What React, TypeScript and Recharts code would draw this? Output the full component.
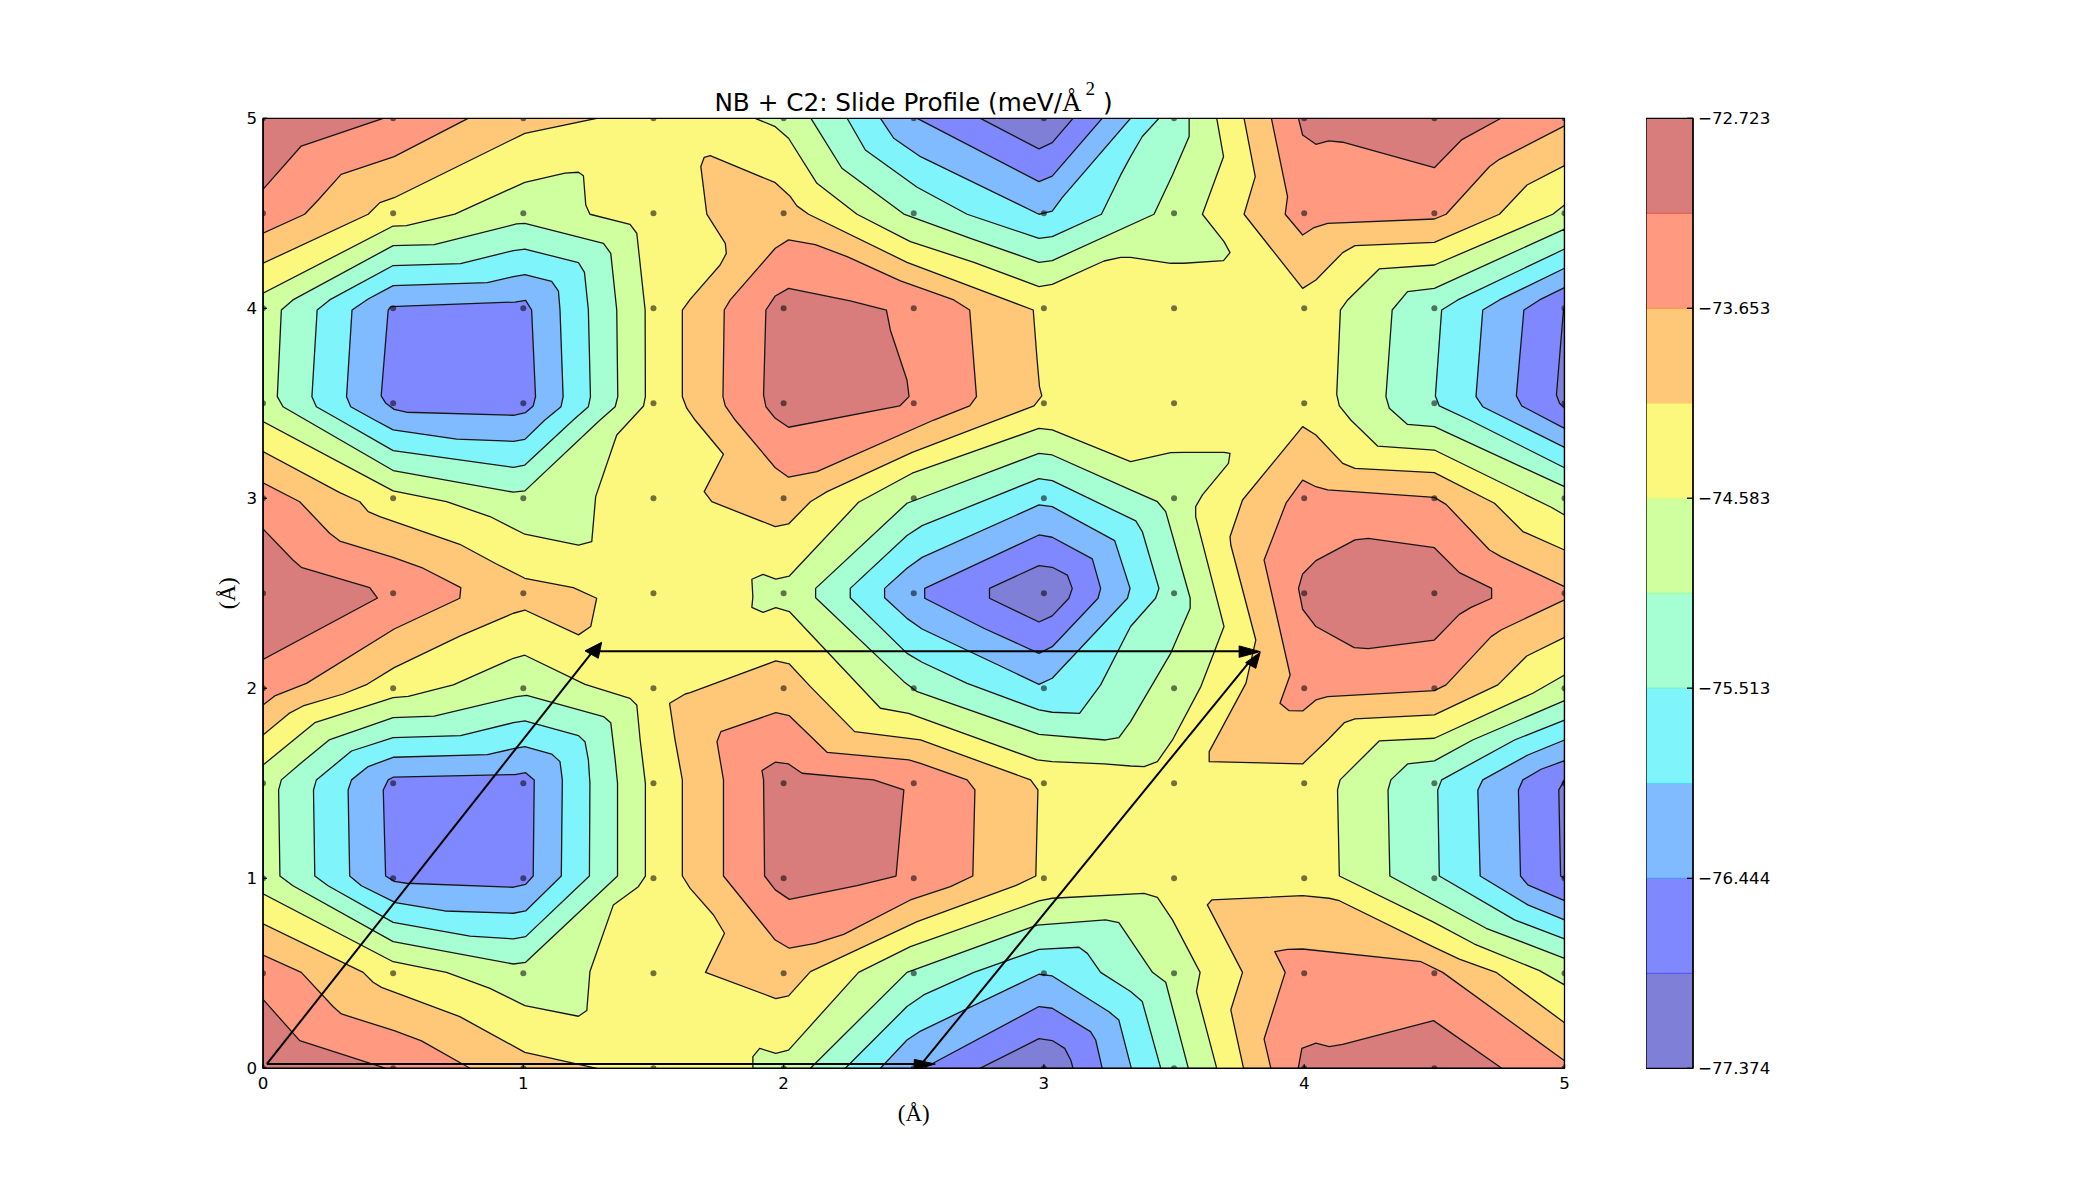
// NB + C2 slide profile: filled contour bands traced from the surface, grid samples and lattice arrows

import { ScatterChart, Scatter, XAxis, YAxis } from "recharts";

type Pair = [number, number];

const axisTicks = [0, 1, 2, 3, 4, 5];
const gridSteps = [0, 0.5, 1, 1.5, 2, 2.5, 3, 3.5, 4, 4.5, 5];

// colour bar
const levels = [-77.374, -76.909, -76.444, -75.979, -75.513, -75.048, -74.583, -74.118, -73.653, -73.188, -72.723];
const barTicks = [-77.374, -76.444, -75.513, -74.583, -73.653, -72.723];
const bandColors = ["#7f7fd7", "#8088ff", "#80bbff", "#80f4fb", "#a6ffd2", "#cfff9f", "#fcf87e", "#ffc878", "#ff9980", "#d87c7c"];
const edgeColors = ["#4050ff", "#4a90ff", "#40d8ff", "#60f0d0", "#90ffa0", "#d8ff70", "#ffd860", "#ff8a3a", "#e0553f"];

const yellow = "#fcf87e";
const orange = "#ffc878";
const salmon = "#ff9980";
const darkRed = "#d87c7c";
const lime = "#cfff9f";
const aqua = "#a6ffd2";
const cyan = "#80f4fb";
const lightBlue = "#80bbff";
const blue = "#8088ff";
const darkBlue = "#7f7fd7";

// contour outlines, in plot units
const background: Pair[] = [[0, 0], [5, 0], [5, 5], [0, 5]];

const orangeTopLeft: Pair[] = [[0, 4.237], [0.404, 4.495], [0.449, 4.556], [0.504, 4.582], [1.006, 4.921], [1.282, 5], [0, 5]];
const salmonTopLeft: Pair[] = [[0, 4.395], [0.16, 4.495], [0.212, 4.57], [0.3, 4.705], [0.504, 4.798], [0.788, 5], [0, 5]];
const redTopLeft: Pair[] = [[0, 4.626], [0.147, 4.854], [0.462, 5], [0, 5]];

const orangeBottomLeft: Pair[] = [[0, 0.76], [0.385, 0.505], [0.423, 0.453], [0.455, 0.426], [0.756, 0.272], [1.006, 0.084], [1.282, 0], [0, 0]];
const salmonBottomLeft: Pair[] = [[0, 0.596], [0.147, 0.505], [0.269, 0.325], [0.301, 0.286], [0.504, 0.198], [0.609, 0.144], [0.795, 0], [0, 0]];
const redBottomLeft: Pair[] = [[0, 0.363], [0.141, 0.146], [0.472, 0], [0, 0]];

const orangeLeft: Pair[] = [[0, 3.246], [0.295, 3.03], [0.372, 2.982], [0.404, 2.93], [0.449, 2.904], [0.756, 2.758], [0.897, 2.654], [1.006, 2.579], [1.192, 2.53], [1.282, 2.474], [1.259, 2.325], [1.212, 2.281], [1.006, 2.412], [0.962, 2.395], [0.756, 2.275], [0.504, 2.109], [0.4, 2.021], [0.308, 1.97], [0.154, 1.907], [0.1, 1.868], [0, 1.754]];
const salmonLeft: Pair[] = [[0, 3.082], [0.141, 2.982], [0.256, 2.816], [0.295, 2.775], [0.5, 2.689], [0.615, 2.632], [0.76, 2.53], [0.756, 2.474], [0.504, 2.312], [0.167, 2.026], [0.045, 1.96], [0, 1.912]];
const redLeft: Pair[] = [[0, 2.839], [0.115, 2.675], [0.147, 2.637], [0.41, 2.53], [0.44, 2.475], [0, 2.152]];

const orangeUpperMid: Pair[] = [[1.682, 4.746], [1.695, 4.795], [1.718, 4.804], [1.968, 4.661], [2.026, 4.588], [2.051, 4.539], [2.096, 4.495], [2.474, 4.242], [2.959, 3.991], [2.974, 3.728], [2.983, 3.588], [2.992, 3.539], [2.962, 3.486], [2.818, 3.412], [2.494, 3.242], [2.167, 3.035], [2.103, 2.982], [2.019, 2.865], [1.968, 2.851], [1.724, 2.982], [1.695, 3.035], [1.769, 3.232], [1.66, 3.412], [1.628, 3.474], [1.611, 3.535], [1.611, 3.991], [1.641, 4.047], [1.756, 4.228], [1.78, 4.289], [1.776, 4.342], [1.705, 4.496]];
const salmonUpperMid: Pair[] = [[1.772, 3.991], [1.795, 4.044], [1.968, 4.316], [2.019, 4.36], [2.122, 4.335], [2.244, 4.272], [2.449, 4.144], [2.654, 4.044], [2.715, 3.991], [2.741, 3.535], [2.715, 3.486], [2.577, 3.412], [2.128, 3.14], [2.019, 3.111], [1.968, 3.161], [1.814, 3.412], [1.776, 3.486], [1.767, 3.535]];
const redUpperMid: Pair[] = [[1.932, 3.991], [1.968, 4.065], [2.019, 4.105], [2.256, 4.039], [2.395, 3.991], [2.41, 3.886], [2.474, 3.623], [2.482, 3.535], [2.446, 3.486], [2.019, 3.374], [1.968, 3.421], [1.932, 3.482], [1.923, 3.544]];

const orangeLowerMid: Pair[] = [[1.562, 1.921], [1.622, 1.97], [1.641, 1.977], [1.97, 2.144], [2.022, 2.128], [2.103, 2.009], [2.273, 1.772], [2.526, 1.728], [2.949, 1.518], [2.977, 1.465], [2.969, 1.012], [2.891, 0.961], [2.513, 0.772], [2.103, 0.509], [2.019, 0.381], [1.97, 0.367], [1.7, 0.505], [1.773, 0.711], [1.731, 0.807], [1.641, 0.947], [1.611, 1.012], [1.611, 1.518], [1.583, 1.728]];
const salmonLowerMid: Pair[] = [[1.744, 1.719], [1.759, 1.772], [1.97, 1.872], [2.022, 1.856], [2.167, 1.663], [2.481, 1.623], [2.526, 1.605], [2.705, 1.518], [2.735, 1.465], [2.727, 1.012], [2.641, 0.956], [2.487, 0.886], [2.231, 0.705], [2.122, 0.658], [2.022, 0.632], [1.968, 0.675], [1.769, 1.012], [1.769, 1.518]];
const redLowerMid: Pair[] = [[1.917, 1.567], [1.968, 1.611], [2.019, 1.602], [2.071, 1.553], [2.346, 1.518], [2.462, 1.465], [2.432, 1.012], [2.282, 0.961], [2.022, 0.889], [1.968, 0.939], [1.927, 1.012], [1.923, 1.518]];

const orangeTopRight: Pair[] = [[3.769, 5], [3.812, 4.693], [3.769, 4.495], [3.994, 4.105], [4.045, 4.149], [4.148, 4.293], [4.195, 4.33], [4.5, 4.347], [4.75, 4.495], [4.856, 4.649], [5, 4.751], [5, 5]];
const salmonTopRight: Pair[] = [[3.874, 5], [3.936, 4.588], [3.927, 4.495], [3.994, 4.386], [4.038, 4.425], [4.09, 4.447], [4.5, 4.47], [4.545, 4.495], [4.712, 4.746], [4.75, 4.784], [5, 4.96], [5, 5]];
const redTopRight: Pair[] = [[3.978, 5], [3.994, 4.912], [4.045, 4.863], [4.094, 4.881], [4.148, 4.874], [4.5, 4.74], [4.606, 4.888], [4.756, 5]];

const orangeRight: Pair[] = [[3.994, 3.377], [4.045, 3.333], [4.148, 3.184], [4.195, 3.158], [4.5, 3.135], [4.731, 2.974], [4.84, 2.825], [5, 2.728], [5, 2.268], [4.855, 2.17], [4.744, 2.018], [4.5, 1.86], [4.195, 1.839], [4.154, 1.819], [4.09, 1.728], [3.994, 1.602], [3.635, 1.614], [3.635, 1.667], [3.776, 2.026], [3.814, 2.254], [3.718, 2.754], [3.715, 2.798], [3.763, 2.991]];
const salmonRight: Pair[] = [[3.994, 3.096], [4.045, 3.061], [4.09, 3.044], [4.5, 3.005], [4.545, 2.968], [4.712, 2.728], [4.756, 2.693], [5, 2.535], [5, 2.465], [4.756, 2.307], [4.718, 2.272], [4.545, 2.018], [4.5, 1.988], [4.09, 1.956], [4.045, 1.939], [3.994, 1.881], [3.942, 1.882], [3.907, 1.921], [3.946, 2.07], [3.846, 2.675], [3.93, 2.974]];
const redRight: Pair[] = [[4.195, 2.781], [4.246, 2.789], [4.5, 2.74], [4.596, 2.609], [4.72, 2.526], [4.72, 2.474], [4.641, 2.426], [4.596, 2.389], [4.5, 2.254], [4.246, 2.209], [4.192, 2.214], [4.045, 2.325], [3.994, 2.416], [3.978, 2.526], [3.994, 2.602], [4.045, 2.672]];

const orangeBottomRight: Pair[] = [[3.628, 0.86], [3.645, 0.886], [3.994, 0.909], [4.096, 0.895], [4.135, 0.882], [4.494, 0.64], [4.596, 0.575], [4.737, 0.505], [5, 0.24], [5, 0], [3.767, 0], [3.718, 0.307], [3.763, 0.505]];
const salmonBottomRight: Pair[] = [[3.887, 0.614], [3.936, 0.626], [3.994, 0.628], [4.449, 0.561], [4.532, 0.505], [5, 0.04], [5, 0], [3.872, 0], [3.846, 0.154], [3.927, 0.505]];
const redBottomRight: Pair[] = [[3.977, 0], [3.991, 0.105], [4.045, 0.132], [4.096, 0.114], [4.148, 0.126], [4.497, 0.251], [4.759, 0]];

const limeUpperLeft: Pair[] = [[0, 4.079], [0.5, 4.433], [0.551, 4.435], [0.737, 4.496], [1.006, 4.663], [1.16, 4.711], [1.212, 4.716], [1.231, 4.698], [1.24, 4.544], [1.256, 4.495], [1.41, 4.442], [1.436, 4.395], [1.468, 3.991], [1.469, 3.535], [1.462, 3.486], [1.359, 3.333], [1.278, 3.009], [1.263, 2.772], [1.212, 2.753], [1.006, 2.811], [0.872, 2.904], [0.705, 2.982], [0.5, 3.039], [0, 3.404]];
const aquaUpperLeft: Pair[] = [[0.0705, 3.991], [0.115, 4.044], [0.5, 4.33], [0.658, 4.335], [0.974, 4.444], [1.006, 4.447], [1.308, 4.342], [1.336, 4.289], [1.359, 3.991], [1.363, 3.535], [1.353, 3.482], [1.295, 3.412], [1.006, 3.039], [0.962, 3.032], [0.5, 3.146], [0.077, 3.482], [0.055, 3.535]];
const cyanUpperLeft: Pair[] = [[0.208, 3.991], [0.256, 4.044], [0.5, 4.225], [0.759, 4.235], [0.962, 4.304], [1.006, 4.312], [1.212, 4.24], [1.235, 4.189], [1.25, 3.991], [1.258, 3.535], [1.25, 3.482], [1.192, 3.412], [1.006, 3.175], [0.962, 3.163], [0.5, 3.251], [0.295, 3.412], [0.205, 3.482], [0.188, 3.535]];
const lightUpperLeft: Pair[] = [[0.342, 3.991], [0.404, 4.049], [0.5, 4.119], [0.862, 4.135], [0.962, 4.167], [1.006, 4.177], [1.109, 4.142], [1.135, 4.091], [1.141, 3.991], [1.153, 3.535], [1.145, 3.482], [1.083, 3.412], [1.006, 3.31], [0.962, 3.3], [0.744, 3.311], [0.5, 3.36], [0.429, 3.412], [0.337, 3.482], [0.321, 3.535]];
const blueUpperLeft: Pair[] = [[0.481, 3.991], [0.491, 4.009], [0.968, 4.033], [1.009, 4.042], [1.032, 3.991], [1.047, 3.535], [1.038, 3.486], [1.009, 3.451], [0.962, 3.437], [0.551, 3.453], [0.504, 3.468], [0.472, 3.5], [0.454, 3.539]];

const limeLowerLeft: Pair[] = [[0, 1.596], [0.199, 1.819], [0.5, 1.951], [0.558, 1.958], [0.731, 2.018], [0.962, 2.158], [1.006, 2.174], [1.237, 2.021], [1.41, 1.947], [1.436, 1.912], [1.449, 1.728], [1.469, 1.5], [1.469, 1.012], [1.442, 0.956], [1.346, 0.86], [1.256, 0.509], [1.244, 0.304], [1.212, 0.274], [1.006, 0.33], [0.872, 0.421], [0.705, 0.505], [0.5, 0.561], [0, 0.918]];
const aquaLowerLeft: Pair[] = [[0.06, 1.465], [0.0705, 1.518], [0.16, 1.623], [0.254, 1.728], [0.5, 1.846], [0.658, 1.854], [0.974, 1.956], [1.013, 1.963], [1.308, 1.851], [1.336, 1.819], [1.353, 1.623], [1.362, 1.5], [1.362, 1.012], [1.009, 0.558], [0.962, 0.549], [0.5, 0.667], [0.115, 0.961], [0.065, 1.012]];
const cyanLowerLeft: Pair[] = [[0.194, 1.465], [0.205, 1.518], [0.34, 1.67], [0.5, 1.74], [0.759, 1.751], [0.962, 1.819], [1.006, 1.828], [1.212, 1.751], [1.237, 1.719], [1.25, 1.623], [1.256, 1.5], [1.254, 1.012], [1.009, 0.693], [0.962, 0.681], [0.795, 0.696], [0.5, 0.768], [0.25, 0.961], [0.199, 1.012]];
const lightLowerLeft: Pair[] = [[0.327, 1.465], [0.34, 1.518], [0.404, 1.588], [0.5, 1.637], [0.862, 1.651], [0.962, 1.682], [1.006, 1.693], [1.109, 1.654], [1.141, 1.614], [1.15, 1.518], [1.146, 1.012], [1.009, 0.828], [0.962, 0.816], [0.699, 0.828], [0.509, 0.872], [0.378, 0.961], [0.333, 1.012]];
const blueLowerLeft: Pair[] = [[0.462, 1.465], [0.481, 1.518], [0.5, 1.532], [0.968, 1.546], [1.009, 1.556], [1.042, 1.518], [1.038, 1.012], [1.009, 0.968], [0.962, 0.953], [0.551, 0.974], [0.504, 0.984], [0.471, 1.012]];

const limeTop: Pair[] = [[1.891, 5], [1.968, 4.956], [2.019, 4.895], [2.128, 4.658], [2.282, 4.495], [2.487, 4.351], [2.731, 4.242], [2.981, 4.114], [3.032, 4.126], [3.231, 4.249], [3.295, 4.268], [3.333, 4.268], [3.487, 4.237], [3.538, 4.237], [3.69, 4.251], [3.715, 4.293], [3.692, 4.351], [3.609, 4.495], [3.69, 4.798], [3.664, 5]];
const aquaTop: Pair[] = [[2.105, 5], [2.224, 4.737], [2.462, 4.496], [2.718, 4.368], [2.981, 4.242], [3.032, 4.251], [3.423, 4.495], [3.494, 4.702], [3.558, 4.904], [3.558, 5]];
const cyanTop: Pair[] = [[2.244, 5], [2.314, 4.833], [2.513, 4.637], [2.705, 4.495], [2.981, 4.368], [3.032, 4.377], [3.221, 4.495], [3.295, 4.702], [3.333, 4.798], [3.378, 4.904], [3.442, 5]];
const lightTop: Pair[] = [[2.372, 5], [2.423, 4.895], [2.526, 4.798], [2.981, 4.495], [3.032, 4.512], [3.071, 4.584], [3.333, 5]];
const blueTop: Pair[] = [[2.513, 5], [2.981, 4.667], [3.032, 4.696], [3.224, 5]];
const darkTop: Pair[] = [[2.756, 5], [2.981, 4.839], [3.032, 4.872], [3.112, 5]];

const limeBottom: Pair[] = [[1.882, 0], [1.882, 0.061], [1.908, 0.105], [1.97, 0.079], [2.019, 0.096], [2.288, 0.505], [2.487, 0.64], [2.981, 0.881], [3.032, 0.895], [3.385, 0.921], [3.436, 0.9], [3.494, 0.781], [3.6, 0.505], [3.586, 0.404], [3.664, 0]];
const aquaBottom: Pair[] = [[2.103, 0], [2.474, 0.505], [2.974, 0.754], [3.237, 0.781], [3.288, 0.767], [3.417, 0.505], [3.468, 0.453], [3.555, 0]];
const cyanBottom: Pair[] = [[2.237, 0], [2.474, 0.325], [2.538, 0.386], [2.731, 0.505], [2.981, 0.626], [3.135, 0.637], [3.167, 0.605], [3.218, 0.505], [3.333, 0.404], [3.378, 0.351], [3.449, 0]];
const lightBottom: Pair[] = [[2.372, 0], [2.474, 0.149], [2.526, 0.196], [2.981, 0.495], [3.032, 0.486], [3.25, 0.298], [3.288, 0.254], [3.336, 0]];
const blueBottom: Pair[] = [[2.538, 0], [2.981, 0.325], [3.032, 0.316], [3.179, 0.193], [3.199, 0.149], [3.224, 0]];
const darkBottom: Pair[] = [[2.754, 0], [2.981, 0.156], [3.032, 0.146], [3.08, 0.105], [3.103, 0.044], [3.112, 0]];

const limeCentre: Pair[] = [[1.878, 2.574], [1.921, 2.6], [1.97, 2.575], [2.022, 2.591], [2.288, 2.979], [2.494, 3.132], [2.981, 3.368], [3.032, 3.36], [3.333, 3.193], [3.487, 3.24], [3.538, 3.242], [3.692, 3.242], [3.715, 3.237], [3.709, 3.184], [3.609, 3.018], [3.583, 2.956], [3.583, 2.904], [3.692, 2.325], [3.603, 2.009], [3.494, 1.728], [3.436, 1.614], [3.385, 1.588], [3.333, 1.591], [3.231, 1.602], [3.032, 1.614], [2.974, 1.623], [2.48, 1.868], [2.372, 1.895], [2.022, 2.404], [1.97, 2.425], [1.921, 2.4], [1.878, 2.426], [1.882, 2.482]];
const aquaCentre: Pair[] = [[2.123, 2.526], [2.474, 2.974], [2.981, 3.237], [3.032, 3.228], [3.333, 3.044], [3.436, 2.982], [3.468, 2.93], [3.562, 2.474], [3.562, 2.421], [3.487, 2.184], [3.333, 1.825], [3.288, 1.74], [3.237, 1.728], [2.981, 1.758], [2.513, 1.982], [2.462, 2.035], [2.123, 2.477]];
const cyanCentre: Pair[] = [[2.256, 2.526], [2.474, 2.804], [2.532, 2.856], [2.981, 3.104], [3.032, 3.093], [3.353, 2.881], [3.378, 2.825], [3.442, 2.526], [3.429, 2.474], [3.333, 2.325], [3.218, 2.018], [3.137, 1.868], [3.032, 1.874], [2.981, 1.886], [2.705, 2.026], [2.532, 2.137], [2.474, 2.184], [2.256, 2.477]];
const lightCentre: Pair[] = [[2.388, 2.526], [2.474, 2.632], [2.532, 2.689], [2.981, 2.965], [3.032, 2.956], [3.272, 2.777], [3.331, 2.526], [3.321, 2.474], [3.032, 2.053], [2.981, 2.021], [2.532, 2.312], [2.474, 2.368], [2.388, 2.477]];
const blueCentre: Pair[] = [[2.542, 2.526], [2.542, 2.474], [2.769, 2.316], [2.981, 2.184], [3.032, 2.219], [3.208, 2.474], [3.218, 2.526], [3.186, 2.681], [3.032, 2.795], [2.981, 2.807]];
const darkCentre: Pair[] = [[2.791, 2.526], [2.791, 2.474], [2.981, 2.349], [3.032, 2.381], [3.096, 2.474], [3.109, 2.526], [3.09, 2.596], [3.032, 2.637], [2.981, 2.646]];

const limeUpperRight: Pair[] = [[4.139, 3.991], [4.167, 4.044], [4.288, 4.207], [4.5, 4.228], [4.955, 4.495], [5, 4.544], [5, 2.912], [4.949, 2.953], [4.5, 3.254], [4.282, 3.275], [4.179, 3.412], [4.135, 3.486], [4.125, 3.547]];
const aquaUpperRight: Pair[] = [[4.338, 3.991], [4.397, 4.088], [4.5, 4.105], [5, 4.417], [5, 3.061], [4.5, 3.377], [4.397, 3.389], [4.327, 3.474], [4.314, 3.535]];
const cyanUpperRight: Pair[] = [[4.528, 3.991], [4.59, 4.044], [5, 4.312], [5, 3.161], [4.635, 3.412], [4.519, 3.486], [4.504, 3.539]];
const lightUpperRight: Pair[] = [[4.686, 3.991], [4.75, 4.044], [5, 4.211], [5, 3.268], [4.788, 3.412], [4.686, 3.482], [4.66, 3.535]];
const blueUpperRight: Pair[] = [[4.844, 3.991], [4.904, 4.044], [5, 4.109], [5, 3.368], [4.836, 3.486], [4.815, 3.539]];
const darkUpperRight: Pair[] = [[5, 4], [4.996, 3.991], [4.969, 3.544], [4.981, 3.5], [5, 3.474]];

const limeLowerRight: Pair[] = [[4.288, 1.723], [4.5, 1.737], [4.878, 1.974], [5, 2.07], [5, 0.439], [4.904, 0.514], [4.654, 0.654], [4.493, 0.772], [4.135, 1.012], [4.128, 1.465], [4.138, 1.518]];
const aquaLowerRight: Pair[] = [[5, 1.935], [4.647, 1.728], [4.5, 1.618], [4.397, 1.602], [4.333, 1.518], [4.322, 1.465], [4.329, 1.012], [4.699, 0.737], [5, 0.579]];
const cyanLowerRight: Pair[] = [[4.513, 1.465], [4.528, 1.518], [4.808, 1.728], [5, 1.833], [5, 0.681], [4.808, 0.781], [4.519, 1.012]];
const lightLowerRight: Pair[] = [[4.667, 1.465], [4.686, 1.518], [4.859, 1.649], [5, 1.728], [5, 0.781], [4.859, 0.86], [4.676, 1.012]];
const blueLowerRight: Pair[] = [[4.823, 1.465], [4.84, 1.518], [4.91, 1.574], [5, 1.619], [5, 0.882], [4.859, 0.965], [4.831, 1.012]];
const darkLowerRight: Pair[] = [[5, 1.521], [4.997, 1.509], [4.978, 1.465], [4.985, 1.012], [5, 1]];

// lattice arrows
const arrowShafts: Pair[][] = [
  [[0.015, 0.023], [2.51, 0.023]],
  [[0.015, 0.023], [1.27, 2.2]],
  [[1.288, 2.195], [3.76, 2.195]],
  [[2.53, 0.023], [3.79, 2.14]],
];
const arrowHeads: Pair[][] = [
  [[2.502, 0.047], [2.583, 0.022], [2.502, -0.005]],
  [[1.237, 2.197], [1.301, 2.242], [1.288, 2.158]],
  [[3.75, 2.223], [3.831, 2.193], [3.75, 2.163]],
  [[3.775, 2.135], [3.831, 2.189], [3.814, 2.105]],
];

const contours: [Pair[], string][] = [
  [background, yellow],
  [orangeTopLeft, orange], [salmonTopLeft, salmon], [redTopLeft, darkRed],
  [orangeBottomLeft, orange], [salmonBottomLeft, salmon], [redBottomLeft, darkRed],
  [orangeLeft, orange], [salmonLeft, salmon], [redLeft, darkRed],
  [orangeUpperMid, orange], [salmonUpperMid, salmon], [redUpperMid, darkRed],
  [orangeLowerMid, orange], [salmonLowerMid, salmon], [redLowerMid, darkRed],
  [orangeTopRight, orange], [salmonTopRight, salmon], [redTopRight, darkRed],
  [orangeRight, orange], [salmonRight, salmon], [redRight, darkRed],
  [orangeBottomRight, orange], [salmonBottomRight, salmon], [redBottomRight, darkRed],
  [limeUpperLeft, lime], [aquaUpperLeft, aqua], [cyanUpperLeft, cyan], [lightUpperLeft, lightBlue], [blueUpperLeft, blue],
  [limeLowerLeft, lime], [aquaLowerLeft, aqua], [cyanLowerLeft, cyan], [lightLowerLeft, lightBlue], [blueLowerLeft, blue],
  [limeTop, lime], [aquaTop, aqua], [cyanTop, cyan], [lightTop, lightBlue], [blueTop, blue], [darkTop, darkBlue],
  [limeBottom, lime], [aquaBottom, aqua], [cyanBottom, cyan], [lightBottom, lightBlue], [blueBottom, blue], [darkBottom, darkBlue],
  [limeCentre, lime], [aquaCentre, aqua], [cyanCentre, cyan], [lightCentre, lightBlue], [blueCentre, blue], [darkCentre, darkBlue],
  [limeUpperRight, lime], [aquaUpperRight, aqua], [cyanUpperRight, cyan], [lightUpperRight, lightBlue], [blueUpperRight, blue], [darkUpperRight, darkBlue],
  [limeLowerRight, lime], [aquaLowerRight, aqua], [cyanLowerRight, cyan], [lightLowerRight, lightBlue], [blueLowerRight, blue], [darkLowerRight, darkBlue],
];

const toPoints = (pairs: Pair[]) => pairs.map(([x, y]) => ({ x, y }));
const gridDots = gridSteps.flatMap((x) => gridSteps.map((y) => ({ x, y })));

const FONT = "'DejaVu Sans', sans-serif";
const SERIF = "'Liberation Serif', serif";
const tickStyle = { fill: "#000", fontSize: 16.67, fontFamily: FONT };
const frame = { stroke: "#000", strokeWidth: 1.3 };

// scatter's line prop hands over the scaled points, so a closed polygon can be filled from them
const polygon = (fill: string, stroke: string, strokeWidth: number) => (props: any) => (
  <polygon
    points={props.points.map((p: any) => `${p.x},${p.y}`).join(" ")}
    fill={fill}
    stroke={stroke}
    strokeWidth={strokeWidth}
    strokeLinejoin="round"
  />
);
const noDot = () => <g />;
const gridDot = (props: any) => <circle cx={props.cx} cy={props.cy} r={3} fill="#000" fillOpacity={0.55} />;

const formatLevel = (v: number) => `\u2212${Math.abs(v).toFixed(3)}`;

// the y label is centred on the axis, which the built-in rotated label does not do
const yAxisLabel = ({ viewBox }: any) => {
  const x = viewBox.x + 12;
  const y = viewBox.y + viewBox.height / 2;
  return (
    <text x={x} y={y} transform={`rotate(-90 ${x} ${y})`} textAnchor="middle" fill="#000" fontSize={23} fontFamily={SERIF}>
      (Å)
    </text>
  );
};

const Outline = ({ data, line }: { data: Pair[]; line: any }) => (
  <Scatter data={toPoints(data)} line={line} lineType="joint" shape={noDot} isAnimationActive={false} />
);

const ContourChart = () => (
  <ScatterChart
    width={1700}
    height={1187}
    margin={{ top: 118.3, left: 263, right: 135.5, bottom: 118.7 }}
  >
    <XAxis type="number" dataKey="x" domain={[0, 5]} allowDataOverflow hide />
    <YAxis type="number" dataKey="y" domain={[0, 5]} allowDataOverflow hide />

    {contours.map(([outline, color], i) => (
      <Outline key={i} data={outline} line={polygon(color, i === 0 ? "none" : "#161616", 1.3)} />
    ))}

    <Scatter data={gridDots} shape={gridDot} isAnimationActive={false} />

    {arrowShafts.map((shaft, i) => (
      <Outline key={`shaft-${i}`} data={shaft} line={{ stroke: "#000", strokeWidth: 2 }} />
    ))}
    {arrowHeads.map((head, i) => (
      <Outline key={`head-${i}`} data={head} line={polygon("#000", "#000", 1)} />
    ))}
  </ScatterChart>
);

// drawn over the contours because recharts paints axes below its series
const ContourAxes = () => (
  <ScatterChart
    width={1700}
    height={1187}
    margin={{ top: 118.3, left: 223, right: 135.5, bottom: 78.7 }}
  >
    <XAxis
      type="number"
      dataKey="x"
      domain={[0, 5]}
      ticks={axisTicks}
      height={40}
      interval={0}
      tick={tickStyle}
      axisLine={frame}
      tickLine={frame}
      tickSize={-4}
      tickMargin={13}
      label={{ value: "(Å)", position: "insideBottom", offset: -13, fill: "#000", fontSize: 23, fontFamily: SERIF }}
    />
    <YAxis
      type="number"
      dataKey="y"
      domain={[0, 5]}
      ticks={axisTicks}
      width={40}
      interval={0}
      tick={tickStyle}
      axisLine={frame}
      tickLine={frame}
      tickSize={-4}
      tickMargin={10}
      label={{ content: yAxisLabel }}
    />
    <XAxis xAxisId="top" orientation="top" type="number" domain={[0, 5]} ticks={axisTicks} height={0} tick={false} axisLine={frame} tickLine={frame} tickSize={-4} />
    <YAxis yAxisId="right" orientation="right" type="number" domain={[0, 5]} ticks={axisTicks} width={0} tick={false} axisLine={frame} tickLine={frame} tickSize={-4} />
    <Outline data={background} line={polygon("none", "#000", 1.3)} />
  </ScatterChart>
);

const ColourBar = () => (
  <ScatterChart
    width={220}
    height={1187}
    margin={{ top: 118.3, left: 0, right: 173, bottom: 118.7 }}
  >
    <XAxis type="number" dataKey="x" domain={[0, 1]} hide />
    <YAxis type="number" dataKey="y" domain={[levels[0], levels[levels.length - 1]]} hide />
    {bandColors.map((color, i) => (
      <Outline
        key={color}
        data={[[0, levels[i]], [1, levels[i]], [1, levels[i + 1]], [0, levels[i + 1]]]}
        line={polygon(color, "none", 0)}
      />
    ))}
    {edgeColors.map((color, i) => (
      <Outline key={color} data={[[0, levels[i + 1]], [1, levels[i + 1]]]} line={{ stroke: color, strokeWidth: 1 }} />
    ))}
  </ScatterChart>
);

const ColourBarAxis = () => (
  <ScatterChart
    width={220}
    height={1187}
    margin={{ top: 118.3, left: 0, right: 126, bottom: 118.7 }}
  >
    <XAxis type="number" dataKey="x" domain={[0, 1]} hide />
    <YAxis
      orientation="right"
      type="number"
      dataKey="y"
      domain={[levels[0], levels[levels.length - 1]]}
      ticks={barTicks}
      width={47}
      interval={0}
      tick={tickStyle}
      tickFormatter={formatLevel}
      tickLine={frame}
      axisLine={frame}
      tickSize={-6}
      tickMargin={11}
    />
    <Outline
      data={[[0, levels[0]], [1, levels[0]], [1, levels[levels.length - 1]], [0, levels[levels.length - 1]]]}
      line={polygon("none", "#000", 1.3)}
    />
  </ScatterChart>
);

const layer = (left: number) => ({ position: "absolute" as const, left, top: 0 });

const App = () => (
  <div style={{ position: "absolute", left: 0, top: 0, width: 2100, height: 1187, background: "#fff", overflow: "hidden" }}>
    <div style={layer(0)}>
      <ContourChart />
    </div>
    <div style={layer(0)}>
      <ContourAxes />
    </div>
    <div style={layer(1646)}>
      <ColourBar />
    </div>
    <div style={layer(1646)}>
      <ColourBarAxis />
    </div>
    <div
      style={{
        position: "absolute",
        left: 263,
        width: 1301,
        top: 87,
        textAlign: "center",
        fontFamily: FONT,
        fontSize: 24.7,
        lineHeight: "30px",
        color: "#000",
        whiteSpace: "pre",
      }}
    >
      NB + C2: Slide Profile (meV/
      <span style={{ fontFamily: SERIF, fontSize: 27 }}>Å</span>
      <span style={{ fontFamily: SERIF, fontSize: 19, position: "relative", top: -16, marginLeft: 4 }}>2</span>
      {" )"}
    </div>
  </div>
);

export default App;
